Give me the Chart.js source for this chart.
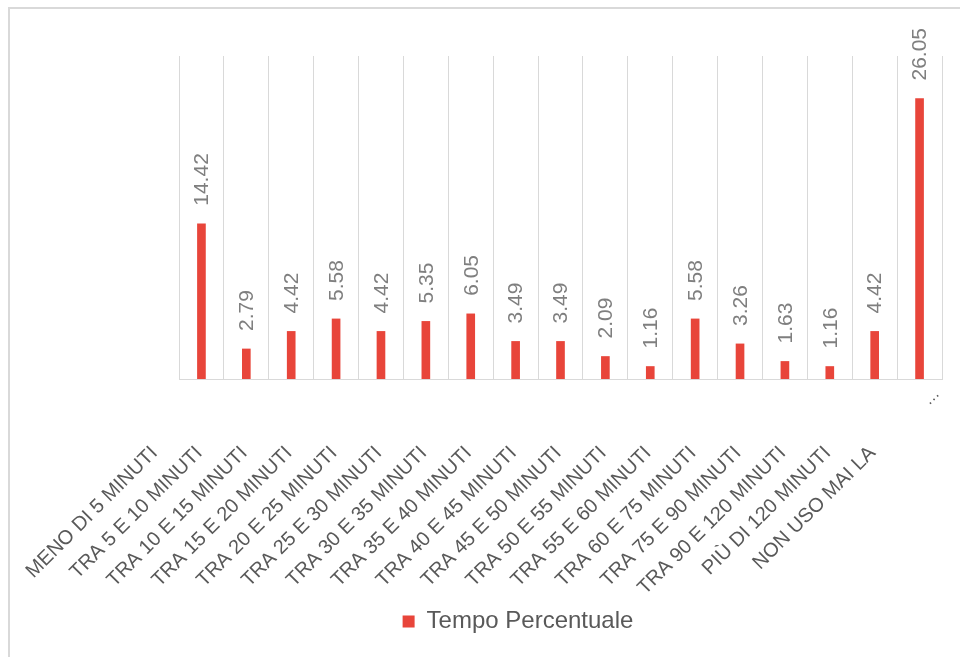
<!DOCTYPE html>
<html lang="it">
<head>
<meta charset="utf-8">
<title>Tempo Percentuale</title>
<script src="https://cdn.jsdelivr.net/npm/chart.js@4.4.1/dist/chart.umd.min.js"></script>
<style>
  html, body { margin: 0; padding: 0; background: #fff; overflow: hidden; }
  .frame {
    position: absolute; left: 8px; top: 7px; width: 1000px; height: 700px;
    border-top: 2px solid #d9d9d9; border-left: 2px solid #d9d9d9;
  }
  #chart { position: absolute; left: 0; top: 0; }
</style>
</head>
<body>
<div class="frame"></div>
<canvas id="chart" width="960" height="657"></canvas>
<script>
const categories = [
  "MENO DI 5 MINUTI",
  "TRA 5 E 10 MINUTI",
  "TRA 10 E 15 MINUTI",
  "TRA 15 E 20 MINUTI",
  "TRA 20 E 25 MINUTI",
  "TRA 25 E 30 MINUTI",
  "TRA 30 E 35 MINUTI",
  "TRA 35 E 40 MINUTI",
  "TRA 40 E 45 MINUTI",
  "TRA 45 E 50 MINUTI",
  "TRA 50 E 55 MINUTI",
  "TRA 55 E 60 MINUTI",
  "TRA 60 E 75 MINUTI",
  "TRA 75 E 90 MINUTI",
  "TRA 90 E 120 MINUTI",
  "PIÙ DI 120 MINUTI",
  "NON USO MAI LA"
];
const values = [14.42, 2.79, 4.42, 5.58, 4.42, 5.35, 6.05, 3.49, 3.49, 2.09, 1.16, 5.58, 3.26, 1.63, 1.16, 4.42, 26.05];
const seriesName = "Tempo Percentuale";

const FONT = "'Liberation Sans', Arial, sans-serif";
Chart.defaults.font.family = FONT;

// etichette dei valori, ruotate in verticale sopra ogni barra
const valueLabels = {
  id: "valueLabels",
  afterDatasetsDraw(chart) {
    const ctx = chart.ctx;
    const meta = chart.getDatasetMeta(0);
    ctx.save();
    ctx.font = "21px " + FONT;
    ctx.fillStyle = "#7f7f7f";
    ctx.textAlign = "left";
    ctx.textBaseline = "middle";
    meta.data.forEach((bar, i) => {
      ctx.save();
      ctx.translate(bar.x + 1, bar.y - 18);
      ctx.rotate(-Math.PI / 2);
      ctx.fillText(values[i].toFixed(2), 0, 0);
      ctx.restore();
    });
    ctx.restore();
  }
};

// l'ultima etichetta è tagliata: resta solo "…" sotto l'ultima barra
const lastLabelTail = {
  id: "lastLabelTail",
  afterDraw(chart) {
    const x = chart.scales.x;
    const ctx = chart.ctx;
    ctx.save();
    ctx.translate(x.getPixelForTick(categories.length - 1) + 12, x.top + 18);
    ctx.rotate(-Math.PI / 4);
    ctx.font = "16px " + FONT;
    ctx.fillStyle = "#595959";
    ctx.textAlign = "center";
    ctx.textBaseline = "middle";
    ctx.fillText("…", 0, 0);
    ctx.restore();
  }
};

new Chart(document.getElementById("chart"), {
  type: "bar",
  data: {
    labels: categories,
    datasets: [
      {
        label: seriesName,
        data: values,
        backgroundColor: "#e8453a",
        barThickness: 8
      }
    ]
  },
  options: {
    responsive: false,
    animation: false,
    layout: { padding: { left: 94, right: 18, top: 56, bottom: 13.5 } },
    scales: {
      x: {
        grid: { offset: true, color: "#d9d9d9", drawTicks: false },
        border: { color: "#d9d9d9", width: 1 },
        ticks: {
          autoSkip: false,
          minRotation: 45,
          maxRotation: 45,
          labelOffset: -47,
          padding: 62.5,
          color: "#595959",
          font: { size: 20 }
        },
        afterFit(scale) {
          scale.height = 220.5;
          scale.paddingLeft = 0;
          scale.paddingRight = 0;
        }
      },
      y: {
        min: 0,
        max: 30,
        ticks: { display: false },
        grid: { display: false },
        border: { display: false },
        afterFit(scale) {
          scale.width = 85;
        }
      }
    },
    plugins: {
      tooltip: { enabled: false },
      legend: {
        display: true,
        position: "bottom",
        labels: {
          boxWidth: 12,
          boxHeight: 12,
          color: "#595959",
          font: { size: 24 }
        }
      }
    }
  },
  plugins: [valueLabels, lastLabelTail]
});
</script>
</body>
</html>
